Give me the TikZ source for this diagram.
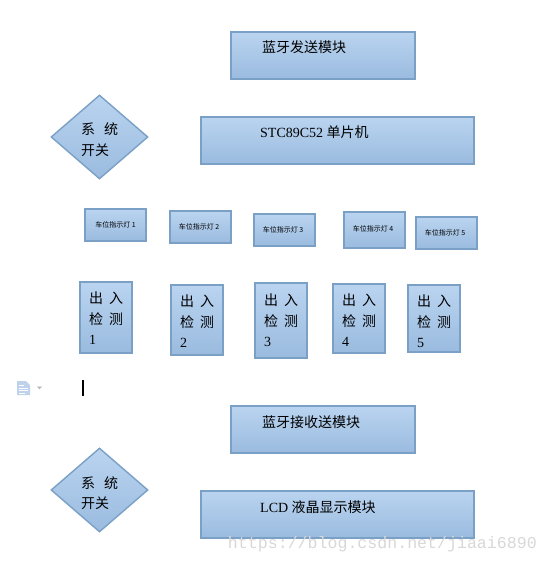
\documentclass[tikz,border=0pt]{standalone}
\usepackage{fontspec}
\setmainfont{Liberation Serif}
\setmonofont{Liberation Mono}
\newfontfamily\cjk{Noto Sans CJK SC}
\usetikzlibrary{shapes.geometric}
\definecolor{boxtop}{HTML}{BAD4F0}
\definecolor{boxbottom}{HTML}{9ABBDF}
\definecolor{boxline}{HTML}{7AA0C6}
\definecolor{iconblue}{HTML}{BFD2EC}
\definecolor{mark}{HTML}{D8D8D8}

\begin{document}
\begin{tikzpicture}[
  x=1pt, y=-1pt,
  modbox/.style={rectangle, top color=boxtop, bottom color=boxbottom, draw=boxline,
                 line width=1.9pt, inner sep=0pt},
  lamp/.style={modbox, minimum width=61pt, minimum height=32pt},
  detect/.style={modbox, minimum width=52pt},
  switchbox/.style={diamond, aspect=1.15, top color=boxtop, bottom color=boxbottom, draw=boxline,
                 line width=1.4pt, inner sep=0pt, minimum width=97pt, minimum height=84pt},
  title/.style={anchor=west, inner sep=0pt, font=\fontsize{14}{16}\selectfont},
  small/.style={anchor=center, inner sep=0pt, font=\fontsize{7}{8}\selectfont\cjk},
  check/.style={anchor=north west, inner sep=0pt, align=left, font=\fontsize{14}{20.5}\selectfont\cjk}
]
\useasboundingbox (0,0) rectangle (548,563);
\fill[white] (0,0) rectangle (548,563);

% upper half
\node[modbox, minimum width=184pt, minimum height=47pt] (sender) at (323,55.5) {};
\node[title] (sendertext) at (262,47) {\cjk 蓝牙发送模块};
\node[modbox, minimum width=273pt, minimum height=47pt] (mcu) at (337.5,140.5) {};
\node[title] (mcutext) at (260,132) {STC89C52 {\cjk 单片机}};
\node[switchbox] (switch1) at (99.5,137) {};
\node[title, align=left, font=\fontsize{14}{20.5}\selectfont\cjk, anchor=north west] (switch1text) at (81,122.5) {系\hspace{9pt}统\\开关};

% parking lamps
\node[lamp] (lamp1) at (115.5,225) {};
\node[small] (lamp1text) at (115.5,225) {车位指示灯 1};
\node[lamp] (lamp2) at (200.5,227) {};
\node[small] (lamp2text) at (199,227) {车位指示灯 2};
\node[lamp] (lamp3) at (284.5,230) {};
\node[small] (lamp3text) at (283,230) {车位指示灯 3};
\node[lamp, minimum height=36pt] (lamp4) at (374.5,230) {};
\node[small] (lamp4text) at (373,228.5) {车位指示灯 4};
\node[lamp] (lamp5) at (446.5,233) {};
\node[small] (lamp5text) at (445,232.5) {车位指示灯 5};

% entry and exit detection
\node[detect, minimum height=71pt] (detect1) at (106,317.5) {};
\node[check] (detect1text) at (89,292) {出\hspace{6pt}入\\检\hspace{6pt}测\\\rmfamily 1};
\node[detect, minimum height=70pt] (detect2) at (197,320) {};
\node[check] (detect2text) at (180,295) {出\hspace{6pt}入\\检\hspace{6pt}测\\\rmfamily 2};
\node[detect, minimum height=75pt] (detect3) at (281,320.5) {};
\node[check] (detect3text) at (264,294) {出\hspace{6pt}入\\检\hspace{6pt}测\\\rmfamily 3};
\node[detect, minimum height=69pt] (detect4) at (359,318.5) {};
\node[check] (detect4text) at (342,294) {出\hspace{6pt}入\\检\hspace{6pt}测\\\rmfamily 4};
\node[detect, minimum height=67pt] (detect5) at (434,318.5) {};
\node[check] (detect5text) at (417,295) {出\hspace{6pt}入\\检\hspace{6pt}测\\\rmfamily 5};

% document icon and cursor
\fill[iconblue] (17,381) -- (26,381) -- (30,385) -- (30,395) -- (17,395) -- cycle;
\draw[white, line width=0.8pt] (19,385) -- (24,385) (19,388) -- (28,388) (19,390.5) -- (28,390.5) (19,393) -- (25,393);
\fill[black!30] (37,386.5) -- (42,386.5) -- (39.5,389) -- cycle;
\draw[black, line width=1.5pt] (83,380) -- (83,396);

% lower half
\node[modbox, minimum width=184pt, minimum height=47pt] (receiver) at (323,429.5) {};
\node[title] (receivertext) at (262,422) {\cjk 蓝牙接收送模块};
\node[switchbox] (switch2) at (99.5,490) {};
\node[title, align=left, font=\fontsize{14}{20.5}\selectfont\cjk, anchor=north west] (switch2text) at (81,476) {系\hspace{9pt}统\\开关};
\node[modbox, minimum width=273pt, minimum height=47pt] (lcd) at (337.5,514.5) {};
\node[title] (lcdtext) at (260,507) {LCD {\cjk 液晶显示模块}};

\node[anchor=east, inner sep=0pt, text=mark, font=\fontsize{16.6}{18}\selectfont\ttfamily] (site) at (537,544) {https://blog.csdn.net/jiaai6890};

\end{tikzpicture}
\end{document}
